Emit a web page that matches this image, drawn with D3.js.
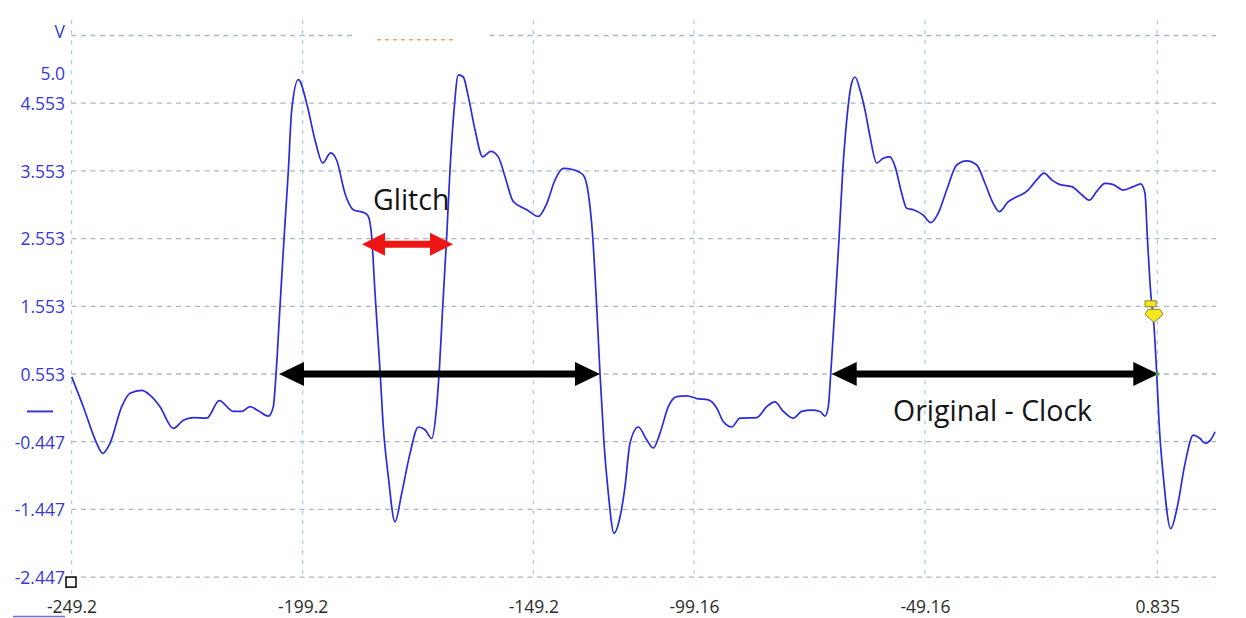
<!DOCTYPE html>
<html>
<head>
<meta charset="utf-8">
<script src="https://cdn.jsdelivr.net/npm/d3@7"></script>
<style>
  html, body { margin: 0; padding: 0; background: #ffffff; }
  svg { display: block; }
</style>
</head>
<body>
<svg id="scope" width="1246" height="618"></svg>
<script>
// ---- time axis (ticks as shown on the scope) ----
const timeTicks = [-249.2, -199.2, -149.2, -99.16, -49.16, 0.835];
const timeTickLabels = ["-249.2", "-199.2", "-149.2", "-99.16", "-49.16", "0.835"];
const timeEnd = 13.5;

// ---- voltage axis ----
const voltTicks = [5.553, 5.0, 4.553, 3.553, 2.553, 1.553, 0.553, -0.447, -1.447, -2.447];
const voltTickLabels = ["V", "5.0", "4.553", "3.553", "2.553", "1.553", "0.553", "-0.447", "-1.447", "-2.447"];
const voltGrid = [5.553, 4.553, 3.553, 2.553, 1.553, 0.553, -0.447, -1.447, -2.447];
const voltTop = 5.78;

// ---- captured channel A trace ----
const sampleTimes = [
  -249.16, -246.65, -243.75, -242.45, -240.87, -238.34, -236.55, -234.02, -232.22, -230.06,
  -227.19, -225.02, -222.86, -219.96, -217.24, -214.21, -212.39, -210.60, -208.80, -206.64,
  -205.56, -204.97, -204.11, -203.24, -202.31, -201.58, -200.15,
  -198.33, -196.53, -194.86, -193.13, -191.83, -190.03, -188.23, -185.69, -184.98, -184.24,
  -183.52, -182.44, -181.72, -180.64, -179.19, -177.73, -175.93, -174.13, -172.68, -171.23,
  -170.30, -169.58, -168.84, -167.98, -167.26, -166.39, -165.46, -164.38, -163.29, -161.84,
  -160.17, -158.44, -156.79, -155.34, -153.54, -150.63,
  -147.64, -145.03, -142.44, -139.86, -136.74, -133.63, -132.07, -130.70, -129.46, -128.43,
  -127.18, -125.84, -124.07, -122.20, -120.64, -119.09, -116.50, -113.88, -111.83, -109.74,
  -107.16, -104.54, -101.43,
  -98.58, -96.06, -94.25, -92.82, -91.00, -89.20, -85.59, -83.42, -81.63, -79.83,
  -77.67, -75.85, -73.68, -71.89, -70.81, -70.09, -69.57, -68.64, -67.77, -66.97,
  -66.11, -65.03, -64.31, -63.23, -62.15, -61.06, -59.61, -58.19, -56.74, -55.65,
  -54.20, -53.12, -51.69, -49.53,
  -47.93, -46.30, -44.49, -42.34, -40.18, -38.03, -36.25, -34.46, -33.17, -31.23,
  -29.42, -27.27, -25.12, -23.55, -21.89, -20.10, -17.58, -15.43, -13.80, -12.20,
  -10.42, -8.63, -6.48, -4.33, -2.73, -1.81, -1.31, -0.58, 0.13, 0.71,
  1.27, 2.13, 3.72, 5.14, 6.80, 8.59, 10.03, 11.11, 12.33, 13.26
];
const sampleVolts = [
  0.51, 0.07, -0.47, -0.62, -0.47, 0.07, 0.27, 0.31, 0.24, 0.07,
  -0.25, -0.13, -0.09, -0.10, 0.16, 0.00, 0.00, 0.07, 0.01, -0.07,
  0.07, 0.55, 1.55, 2.55, 3.55, 4.45, 4.90,
  4.55, 4.01, 3.67, 3.82, 3.71, 3.22, 2.98, 2.93, 2.88, 2.58,
  1.75, 0.61, -0.23, -0.96, -1.63, -1.21, -0.62, -0.23, -0.27, -0.40,
  -0.03, 0.61, 1.55, 2.58, 3.57, 4.45, 4.97, 4.94, 4.65, 4.16,
  3.76, 3.84, 3.76, 3.47, 3.10, 2.98,
  2.88, 3.07, 3.42, 3.59, 3.57, 3.49, 3.22, 2.58, 1.55, 0.56,
  -0.47, -1.21, -1.80, -1.56, -1.11, -0.47, -0.23, -0.42, -0.54, -0.32,
  0.07, 0.22, 0.23,
  0.19, 0.17, 0.05, -0.15, -0.23, -0.10, -0.09, 0.07, 0.14, 0.00,
  -0.10, 0.00, 0.02, 0.00, -0.07, 0.07, 0.55, 1.55, 2.55, 3.55,
  4.30, 4.85, 4.94, 4.75, 4.45, 4.06, 3.67, 3.74, 3.76, 3.62,
  3.22, 3.00, 2.98, 2.90,
  2.79, 2.93, 3.27, 3.64, 3.70, 3.64, 3.37, 3.07, 2.95, 3.10,
  3.17, 3.25, 3.42, 3.52, 3.42, 3.35, 3.32, 3.20, 3.12, 3.25,
  3.37, 3.35, 3.27, 3.32, 3.36, 3.22, 2.58, 1.75, 1.25, 0.56,
  -0.23, -0.96, -1.73, -1.41, -0.77, -0.35, -0.40, -0.47, -0.42, -0.30
];

// ---- annotations (time span start/end, level in volts) ----
const clockSpans = [[-204.33, -128.43], [-69.36, 1.05]];
const clockLevel = 0.553;
const glitchSpan = [-186.34, -166.61];
const glitchLevel = 2.47;
const annotationText = ["Glitch", "Original - Clock"];
const annotationAt = [[-183.96, 2.98], [-56.09, -0.14]];
const cursorMarks = [[-0.62, 1.59], [0.13, 1.42]];
const triggerPoint = [0.88, 0.553];
const refMarker = [-183.09, -165.74, 5.49];
const titleGap = [-188.29, -159.67];

// ---- scales: the scope's time grid is drawn with its own per-division spacing ----
const x = d3.scaleLinear()
  .domain(timeTicks)
  .range([71.5, 302.7, 533.3, 694, 925, 1157.3]);
const y = d3.scaleLinear()
  .domain([-2.447, 5.553])
  .range([577.1, 35.5]);

const svg = d3.select("#scope");
const xLeft = x(timeTicks[0]);
const xRight = x(timeEnd);

// grid
const grid = svg.append("g");
grid.selectAll("line.h").data(voltGrid).enter().append("line")
  .attr("class", "h")
  .attr("x1", xLeft).attr("x2", xRight)
  .attr("y1", d => y(d)).attr("y2", d => y(d))
  .attr("stroke", "#a6b9c9").attr("stroke-width", 1.3)
  .attr("stroke-dasharray", "5,4.5");
grid.selectAll("line.v").data(timeTicks).enter().append("line")
  .attr("class", "v")
  .attr("x1", d => x(d)).attr("x2", d => x(d))
  .attr("y1", y(voltTop)).attr("y2", y(-2.447))
  .attr("stroke", "#aacde6").attr("stroke-width", 1.3)
  .attr("stroke-dasharray", "4,6");

// gap in the top grid line where the reference marker sits
svg.append("rect")
  .attr("x", x(titleGap[0])).attr("width", x(titleGap[1]) - x(titleGap[0]))
  .attr("y", y(5.553) - 3).attr("height", 6)
  .attr("fill", "#ffffff");
svg.append("line")
  .attr("x1", x(refMarker[0])).attr("x2", x(refMarker[1]))
  .attr("y1", y(refMarker[2])).attr("y2", y(refMarker[2]))
  .attr("stroke", "#f2a66a").attr("stroke-width", 1.6)
  .attr("stroke-dasharray", "4,4");

// voltage labels
const yAxis = svg.append("g")
  .attr("transform", "translate(65,0)")
  .call(d3.axisLeft(y).tickValues(voltTicks)
    .tickFormat((d, i) => voltTickLabels[i]).tickSize(0).tickPadding(0));
yAxis.select(".domain").remove();
yAxis.selectAll("text")
  .attr("dy", (d, i) => i === 0 ? "0.1em" : "0.36em")
  .style("font-family", "'Open Sans', sans-serif")
  .style("font-size", "17.5px")
  .attr("fill", "#3838d6");

// time labels
const xAxis = svg.append("g")
  .attr("transform", `translate(0,${y(-2.447)})`)
  .call(d3.axisBottom(x).tickValues(timeTicks)
    .tickFormat((d, i) => timeTickLabels[i]).tickSize(0).tickPadding(23));
xAxis.select(".domain").remove();
xAxis.selectAll("text")
  .style("font-family", "'Open Sans', sans-serif")
  .style("font-size", "17.5px")
  .attr("fill", "#2b2b2b");

// channel zero marker and bottom-left indicator
svg.append("line")
  .attr("x1", 27).attr("x2", 53)
  .attr("y1", y(0)).attr("y2", y(0))
  .attr("stroke", "#3a3ad2").attr("stroke-width", 2);
svg.append("line")
  .attr("x1", 13).attr("x2", 65)
  .attr("y1", 616.5).attr("y2", 616.5)
  .attr("stroke", "#7272e6").attr("stroke-width", 1.5);
svg.append("rect")
  .attr("x", x(timeTicks[0]) - 5.5).attr("y", y(-2.447))
  .attr("width", 10).attr("height", 10)
  .attr("fill", "#ffffff").attr("stroke", "#111").attr("stroke-width", 1.6);

// waveform
const trace = sampleTimes.map((t, i) => [t, sampleVolts[i]]);
svg.append("path")
  .datum(trace)
  .attr("fill", "none")
  .attr("stroke", "#2a2ade")
  .attr("stroke-width", 1.7)
  .attr("stroke-linejoin", "round")
  .attr("d", d3.line().x(d => x(d[0])).y(d => y(d[1])).curve(d3.curveMonotoneX));

// double-headed span arrows
function spanArrow(x1, x2, cy, bar, headLen, headHalf) {
  const p = d3.path();
  p.moveTo(x1, cy);
  p.lineTo(x1 + headLen, cy - headHalf);
  p.lineTo(x1 + headLen, cy - bar / 2);
  p.lineTo(x2 - headLen, cy - bar / 2);
  p.lineTo(x2 - headLen, cy - headHalf);
  p.lineTo(x2, cy);
  p.lineTo(x2 - headLen, cy + headHalf);
  p.lineTo(x2 - headLen, cy + bar / 2);
  p.lineTo(x1 + headLen, cy + bar / 2);
  p.lineTo(x1 + headLen, cy + headHalf);
  p.closePath();
  return p.toString();
}
svg.selectAll("path.clock").data(clockSpans).enter().append("path")
  .attr("class", "clock")
  .attr("d", d => spanArrow(x(d[0]), x(d[1]), y(clockLevel), 7, 25, 12))
  .attr("fill", "#000");
svg.append("path")
  .attr("d", spanArrow(x(glitchSpan[0]), x(glitchSpan[1]), y(glitchLevel), 7, 23, 11.5))
  .attr("fill", "#ee1515");

// annotation text
svg.selectAll("text.note").data(annotationText).enter().append("text")
  .attr("class", "note")
  .attr("x", (d, i) => x(annotationAt[i][0]))
  .attr("y", (d, i) => y(annotationAt[i][1]))
  .style("font-family", "'Open Sans', sans-serif")
  .style("font-size", "28.5px")
  .attr("fill", "#141414")
  .text(d => d);

// cursor markers on the falling edge
const rc = cursorMarks[0];
svg.append("rect")
  .attr("x", x(rc[0]) - 5.5).attr("y", y(rc[1]) - 3)
  .attr("width", 11).attr("height", 6)
  .attr("fill", "#f6e81c").attr("stroke", "#8c8a2a").attr("stroke-width", 1);
const pc = cursorMarks[1];
const px = x(pc[0]), py = y(pc[1]);
svg.append("path")
  .attr("d", `M${px - 6},${py - 6} L${px + 6},${py - 6} L${px + 9},${py - 1} L${px},${py + 7} L${px - 9},${py - 1} Z`)
  .attr("fill", "#f6e81c").attr("stroke", "#8c8a2a").attr("stroke-width", 1);
svg.append("circle")
  .attr("cx", x(triggerPoint[0])).attr("cy", y(triggerPoint[1]))
  .attr("r", 2).attr("fill", "#3cb043");
</script>
</body>
</html>
